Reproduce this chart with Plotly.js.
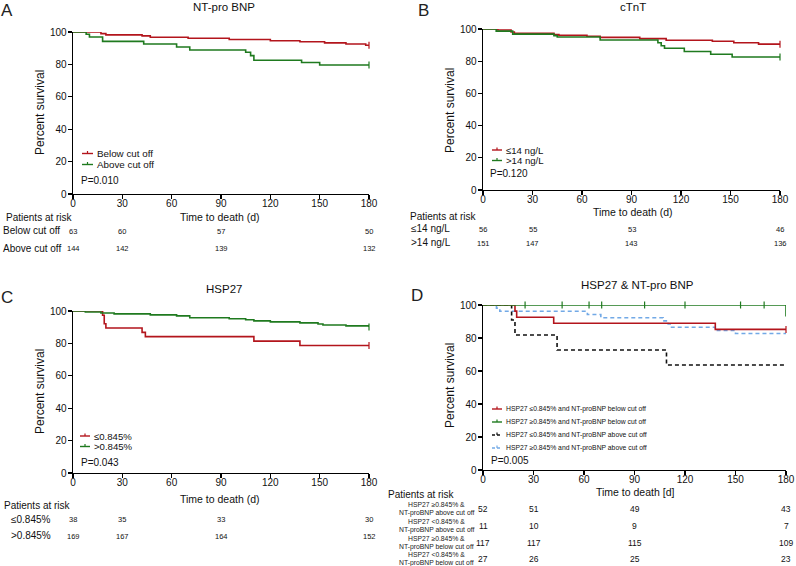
<!DOCTYPE html>
<html>
<head>
<meta charset="utf-8">
<script src="https://cdn.plot.ly/plotly-3.0.1.min.js"></script>
<style>html,body{margin:0;padding:0;background:#fff;}#chart{width:796px;height:566px;}</style>
</head>
<body>
<div id="chart"></div>
<script>
// ---------------- DATA ----------------
// Panel A: NT-pro BNP
const aBelowTime = [0, 17, 20, 42, 47, 70, 95, 120, 138, 153, 166, 178, 180];
const aBelowSurv = [100, 99.0, 98.2, 97.6, 96.8, 96.1, 95.4, 94.6, 94.0, 93.3, 92.6, 91.8, 91.8];
const aAboveTime = [0, 8, 10, 18, 43, 63, 71, 105, 108, 110, 139, 150, 180];
const aAboveSurv = [100, 98.6, 96.9, 94.2, 92.6, 90.7, 88.9, 87.5, 85.4, 82.6, 81.2, 79.6, 79.6];
// Panel B: cTnT
const bLowTime = [0, 9, 17, 19, 43, 46, 63, 71, 95, 111, 139, 152, 167, 180];
const bLowSurv = [100, 99.4, 98.1, 97.3, 96.5, 96.1, 95.5, 94.8, 94.0, 93.0, 92.4, 91.5, 90.6, 90.6];
const bHighTime = [0, 8, 18, 43, 45, 71, 106, 108, 110, 122, 138, 151, 180];
const bHighSurv = [100, 98.7, 96.8, 95.9, 95.0, 93.2, 91.5, 89.6, 88.0, 86.0, 84.3, 82.6, 82.6];
// Panel C: HSP27
const cLowTime = [0, 18, 19, 20, 42, 44, 110, 138, 180];
const cLowSurv = [100, 97.4, 92.1, 89.5, 86.8, 84.2, 81.4, 78.7, 78.7];
const cHighTime = [0, 7.5, 17, 25, 47, 63, 71, 95, 105, 110, 120, 138, 149, 152, 166, 180];
const cHighSurv = [100, 99.4, 98.8, 98.2, 97.6, 97.0, 95.8, 95.2, 94.6, 93.9, 93.3, 92.7, 92.0, 91.4, 90.8, 90.2];
// Panel D: HSP27 & NT-pro BNP
const dRedTime = [0, 19, 20, 42, 138, 180];
const dRedSurv = [100, 96.3, 92.6, 88.9, 85.2, 85.2];
const dGreenTime = [0, 180, 180];
const dGreenSurv = [100, 100, 93];
const dGreenCensorTime = [25, 47, 63, 70.5, 96, 120, 153, 167];
const dGreenCensorSurv = [100, 100, 100, 100, 100, 100, 100, 100];
const dBlackTime = [0, 17, 19, 44, 109, 180];
const dBlackSurv = [100, 90.9, 81.8, 72.7, 63.6, 63.6];
const dBlueTime = [0, 8, 10, 62, 70, 107, 110, 112, 138, 150, 180];
const dBlueSurv = [100, 98.1, 96.2, 94.2, 92.3, 90.4, 88.5, 86.5, 84.6, 82.7, 82.7];

// Risk tables
const riskTimes = [0, 30, 90, 180];
const aRiskLabels = ["Below cut off", "Above cut off"];
const aRiskBelow = [63, 60, 57, 50];
const aRiskAbove = [144, 142, 139, 132];
const bRiskLabels = ["\u226414 ng/L", ">14 ng/L"];
const bRiskLow = [56, 55, 53, 46];
const bRiskHigh = [151, 147, 143, 136];
const cRiskLabels = ["\u22640.845%", ">0.845%"];
const cRiskLow = [38, 35, 33, 30];
const cRiskHigh = [169, 167, 164, 152];
const dRiskLabels = [["HSP27 \u22650.845% &", "NT-proBNP above cut off"], ["HSP27 <0.845% &", "NT-proBNP above cut off"],
                     ["HSP27 \u22650.845% &", "NT-proBNP below cut off"], ["HSP27 <0.845% &", "NT-proBNP below cut off"]];
const dRisk1 = [52, 51, 49, 43];
const dRisk2 = [11, 10, 9, 7];
const dRisk3 = [117, 117, 115, 109];
const dRisk4 = [27, 26, 25, 23];

const xTicks = [0, 30, 60, 90, 120, 150, 180];
const yTicks = [0, 20, 40, 60, 80, 100];

// ---------------- STYLE / LAYOUT ----------------
const W = 796, H = 566;
const px = x => x / W;
const py = y => 1 - y / H;
const FONT = "Liberation Sans, Arial, sans-serif";
const RED = "#b3151c", GREEN = "#1f7a1f", BLACK = "#111111", BLUE = "#72a9e6";

const boxes = {
  A: {x0: 73, x1: 369, y0: 32, y1: 194},
  B: {x0: 483, x1: 780, y0: 29, y1: 190},
  C: {x0: 73, x1: 369, y0: 311, y1: 473},
  D: {x0: 483, x1: 786, y0: 305, y1: 470}
};
const axisIds = {A: ["x", "y"], B: ["x2", "y2"], C: ["x3", "y3"], D: ["x4", "y4"]};

function curve(t, s, ax, color, dash) {
  return {x: t, y: s, xaxis: ax[0], yaxis: ax[1], mode: "lines", cliponaxis: false,
          line: {shape: "hv", color: color, width: 1.6, dash: dash || "solid"}, showlegend: false, hoverinfo: "skip"};
}
function censor(t, s, ax, color) {
  return {x: t, y: s, xaxis: ax[0], yaxis: ax[1], mode: "markers", cliponaxis: false,
          marker: {symbol: "line-ns-open", size: 5, color: color, line: {color: color, width: 1.2}},
          showlegend: false, hoverinfo: "skip"};
}
const last = a => [a[a.length - 1]];

const data = [
  curve(aBelowTime, aBelowSurv, axisIds.A, RED), censor(last(aBelowTime), last(aBelowSurv), axisIds.A, RED),
  curve(aAboveTime, aAboveSurv, axisIds.A, GREEN), censor(last(aAboveTime), last(aAboveSurv), axisIds.A, GREEN),
  curve(bLowTime, bLowSurv, axisIds.B, RED), censor(last(bLowTime), last(bLowSurv), axisIds.B, RED),
  curve(bHighTime, bHighSurv, axisIds.B, GREEN), censor(last(bHighTime), last(bHighSurv), axisIds.B, GREEN),
  curve(cLowTime, cLowSurv, axisIds.C, RED), censor(last(cLowTime), last(cLowSurv), axisIds.C, RED),
  curve(cHighTime, cHighSurv, axisIds.C, GREEN), censor(last(cHighTime), last(cHighSurv), axisIds.C, GREEN),
  curve(dBlueTime, dBlueSurv, axisIds.D, BLUE, "4px,3px"),
  curve(dBlackTime, dBlackSurv, axisIds.D, BLACK, "4px,3px"),
  curve(dRedTime, dRedSurv, axisIds.D, RED), censor(last(dRedTime), last(dRedSurv), axisIds.D, RED),
  curve(dGreenTime, dGreenSurv, axisIds.D, GREEN),
  censor(dGreenCensorTime, dGreenCensorSurv, axisIds.D, GREEN)
];

function xaxis(b, anchor) {
  return {domain: [px(b.x0), px(b.x1)], range: [0, 180], anchor: anchor, tickvals: xTicks, ticks: "outside",
          ticklen: 4, tickwidth: 1.2, tickcolor: "#000", showline: true, linecolor: "#000", linewidth: 1.4,
          ticklabelstandoff: -4,
          showgrid: false, zeroline: false, tickfont: {family: FONT, size: 10, color: "#111"}, fixedrange: true};
}
function yaxis(b, anchor) {
  return {domain: [py(b.y1), py(b.y0)], range: [0, 100], anchor: anchor, tickvals: yTicks, ticks: "outside",
          ticklen: 4, tickwidth: 1.2, tickcolor: "#000", showline: true, linecolor: "#000", linewidth: 1.4,
          ticklabelstandoff: -1,
          showgrid: false, zeroline: false, tickfont: {family: FONT, size: 10, color: "#111"}, fixedrange: true};
}

const ann = [];
function txt(text, x, y, size, opts) {
  ann.push(Object.assign({text: text, x: px(x), y: py(y), xref: "paper", yref: "paper", showarrow: false,
    xanchor: "center", yanchor: "middle", borderpad: 0, font: {family: FONT, size: size, color: "#111"}}, opts || {}));
}
// Panel letters and titles
txt("A", 7, 10, 17, {font: {family: FONT, size: 17, color: "#222"}});
txt("B", 423, 10, 17, {font: {family: FONT, size: 17, color: "#222"}});
txt("C", 7, 297, 17, {font: {family: FONT, size: 17, color: "#222"}});
txt("D", 417, 295, 17, {font: {family: FONT, size: 17, color: "#222"}});
txt("NT-pro BNP", 224, 7, 11.5);
txt("cTnT", 633, 7, 11.5);
txt("HSP27", 224, 289, 11.5);
txt("HSP27 &amp; NT-pro BNP", 637, 285, 11.5);
// Axis titles
txt("Percent survival", 40, 113, 12, {textangle: -90});
txt("Percent survival", 450, 110, 12, {textangle: -90});
txt("Percent survival", 40, 392, 12, {textangle: -90});
txt("Percent survival", 450, 385, 12, {textangle: -90});
txt("Time to death (d)", 220, 217, 10.5);
txt("Time to death (d)", 633, 212, 10.5);
txt("Time to death (d)", 220, 499, 10.5);
txt("Time to death [d]", 635, 492, 10.5);
// P values
txt("P=0.010", 80, 180, 10, {xanchor: "left"});
txt("P=0.120", 489, 174, 10, {xanchor: "left"});
txt("P=0.043", 80, 462, 10, {xanchor: "left"});
txt("P=0.005", 490, 460, 10, {xanchor: "left"});

// Legends (drawn manually)
const shapes = [];
function legendItem(x, y, len, color, dash, label, size) {
  shapes.push({type: "line", xref: "paper", yref: "paper", x0: px(x), x1: px(x + len), y0: py(y), y1: py(y),
               line: {color: color, width: 1.4, dash: dash || "solid"}});
  shapes.push({type: "line", xref: "paper", yref: "paper", x0: px(x + len / 2), x1: px(x + len / 2), y0: py(y), y1: py(y - 2.5),
               line: {color: color, width: 1.2}});
  txt(label, x + len + 3, y, size, {xanchor: "left"});
}
legendItem(82, 153.5, 11, RED, null, "Below cut off", 9.8);
legendItem(82, 164.5, 11, GREEN, null, "Above cut off", 9.8);
legendItem(492, 150, 10, RED, null, "\u226414 ng/L", 9.6);
legendItem(492, 160.5, 10, GREEN, null, ">14 ng/L", 9.6);
legendItem(80, 436, 10, RED, null, "\u22640.845%", 9.6);
legendItem(80, 446.5, 10, GREEN, null, ">0.845%", 9.6);
legendItem(492, 409, 10, RED, null, "HSP27 \u22640.845% and NT-proBNP below cut off", 6.8);
legendItem(492, 422, 10, GREEN, null, "HSP27 \u22650.845% and NT-proBNP below cut off", 6.8);
legendItem(492, 435, 10, BLACK, "3px,2px", "HSP27 \u22640.845% and NT-proBNP above cut off", 6.8);
legendItem(492, 448, 10, BLUE, "3px,2px", "HSP27 \u22650.845% and NT-proBNP above cut off", 6.8);

// Risk tables
function riskRow(values, xref, y, size) {
  values.forEach((v, i) => {
    ann.push({text: String(v), x: riskTimes[i], y: py(y), xref: xref, yref: "paper", showarrow: false,
              xanchor: "center", yanchor: "middle", borderpad: 0, font: {family: FONT, size: size, color: "#111"}});
  });
}
txt("Patients at risk", 5, 217, 10, {xanchor: "left"});
txt(aRiskLabels[0], 2, 230, 10, {xanchor: "left"});
txt(aRiskLabels[1], 2, 248, 10, {xanchor: "left"});
riskRow(aRiskBelow, "x", 231, 7.5);
riskRow(aRiskAbove, "x", 248, 7.5);

txt("Patients at risk", 409, 216, 10, {xanchor: "left"});
txt(bRiskLabels[0], 410, 228, 10, {xanchor: "left"});
txt(bRiskLabels[1], 410, 243, 10, {xanchor: "left"});
riskRow(bRiskLow, "x2", 229, 7.5);
riskRow(bRiskHigh, "x2", 244, 7.5);

txt("Patients at risk", 3, 505, 10, {xanchor: "left"});
txt(cRiskLabels[0], 10, 519, 10, {xanchor: "left"});
txt(cRiskLabels[1], 10, 535, 10, {xanchor: "left"});
riskRow(cRiskLow, "x3", 519, 7.5);
riskRow(cRiskHigh, "x3", 536, 7.5);

txt("Patients at risk", 387, 494, 10, {xanchor: "left"});
const dRows = [dRisk1, dRisk2, dRisk3, dRisk4];
const dRowY = [509, 526, 543, 559];
dRows.forEach((row, i) => {
  txt(dRiskLabels[i][0], 436, dRowY[i] - 4.5, 6.8, {font: {family: FONT, size: 6.8, color: "#222"}});
  txt(dRiskLabels[i][1], 436, dRowY[i] + 3.5, 6.8, {font: {family: FONT, size: 6.8, color: "#222"}});
  riskRow(row, "x4", dRowY[i], 8.5);
});

const layout = {
  width: W, height: H, margin: {l: 0, r: 0, t: 0, b: 0}, paper_bgcolor: "#fff", plot_bgcolor: "#fff",
  showlegend: false, font: {family: FONT, color: "#111"},
  xaxis: xaxis(boxes.A, "y"), yaxis: yaxis(boxes.A, "x"),
  xaxis2: xaxis(boxes.B, "y2"), yaxis2: yaxis(boxes.B, "x2"),
  xaxis3: xaxis(boxes.C, "y3"), yaxis3: yaxis(boxes.C, "x3"),
  xaxis4: xaxis(boxes.D, "y4"), yaxis4: yaxis(boxes.D, "x4"),
  annotations: ann, shapes: shapes
};
Plotly.newPlot("chart", data, layout, {staticPlot: true, displayModeBar: false});
</script>
</body>
</html>
